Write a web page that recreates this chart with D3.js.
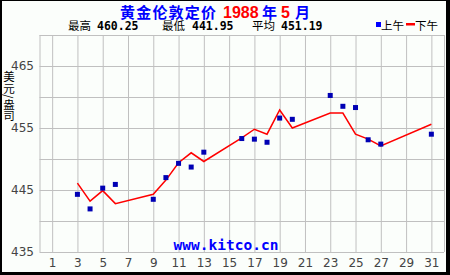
<!DOCTYPE html>
<html>
<head>
<meta charset="utf-8">
<script src="https://cdn.jsdelivr.net/npm/d3@7"></script>
<style>
  body { margin: 0; background: #fff; }
  svg { display: block; }
  .grid line { stroke: #c0c0c0; stroke-width: 1; }
  .grid path { display: none; }
  .lbl text { font-family: "DejaVu Sans", sans-serif; font-size: 12px; fill: #444; }
</style>
</head>
<body>
<script>
// trading days, May 1988
var days    = [3, 4, 5, 6, 9, 10, 11, 12, 13, 16, 17, 18, 19, 20, 23, 24, 25, 26, 27, 31];
var amFix   = [444.3, 441.95, 445.3, 445.9, 443.5, 447.0, 449.3, 448.7, 451.1, 453.3,
               453.2, 452.7, 456.6, 456.4, 460.25, 458.5, 458.3, 453.1, 452.4, 454.0];
var pmFix   = [446.1, 443.2, 444.9, 442.8, 444.3, 446.6, 449.4, 451.0, 449.6, 453.4,
               454.8, 454.0, 457.9, 455.0, 457.4, 457.4, 454.0, 453.2, 452.1, 455.6];
var xTicks  = [1, 3, 5, 7, 9, 11, 13, 15, 17, 19, 21, 23, 25, 27, 29, 31];
var yTicks  = [435, 445, 455, 465];
var yGrid   = [435, 440, 445, 450, 455, 460, 465, 470];
var stats   = [["最高", "460.25"], ["最低", "441.95"], ["平均", "451.19"]];

var W = 450, H = 275;
var svg = d3.select("body").append("svg").attr("width", W).attr("height", H);

// frame
svg.append("rect").attr("width", W).attr("height", H).attr("fill", "#000");
svg.append("rect").attr("x", 2).attr("y", 1).attr("width", W - 6).attr("height", H - 4)
    .attr("fill", "#fbfefb");

var x = d3.scaleLinear().domain([0, 32]).range([39.5, 444]);
var y = d3.scaleLinear().domain([435, 470]).range([252, 35]);

// grid
svg.append("g").attr("class", "grid")
    .attr("transform", "translate(0,35)")
    .call(d3.axisBottom(x).tickValues(xTicks.concat([0, 32])).tickSize(217).tickFormat(""));
svg.append("g").attr("class", "grid")
    .attr("transform", "translate(39.5,0)")
    .call(d3.axisRight(y).tickValues(yGrid).tickSize(404.5).tickFormat(""));

// axis labels
svg.append("g").attr("class", "lbl")
    .attr("transform", "translate(39,0)")
    .call(d3.axisLeft(y).tickValues(yTicks).tickSize(0).tickPadding(5).tickFormat(d3.format("d")))
    .call(function(g) { g.select(".domain").remove(); });
svg.append("g").attr("class", "lbl")
    .attr("transform", "translate(0,254)")
    .call(d3.axisBottom(x).tickValues(xTicks).tickSize(0).tickPadding(4).tickFormat(d3.format("d")))
    .call(function(g) { g.select(".domain").remove(); });

// y title, vertical
svg.append("text").attr("x", 9).attr("y", 71)
    .attr("style", "writing-mode: vertical-rl;")
    .attr("font-family", "'Noto Sans CJK SC', sans-serif")
    .attr("font-size", 11.5).attr("fill", "#000").text("美元/盎司");

// watermark
svg.append("text").attr("x", 226).attr("y", 250).attr("text-anchor", "middle")
    .attr("font-family", "'DejaVu Sans Mono', monospace").attr("font-weight", "bold")
    .attr("font-size", 14.5).attr("fill", "#0000ff").text("www.kitco.cn");

// afternoon line
var line = d3.line().x(function(d) { return x(d[0]); }).y(function(d) { return y(d[1]); });
svg.append("path").datum(d3.zip(days, pmFix)).attr("d", line)
    .attr("fill", "none").attr("stroke", "#ff0000").attr("stroke-width", 1.5);

// morning markers
svg.selectAll("rect.am").data(d3.zip(days, amFix)).enter().append("rect")
    .attr("class", "am")
    .attr("x", function(d) { return x(d[0]) - 2.5; })
    .attr("y", function(d) { return y(d[1]) - 2.5; })
    .attr("width", 5).attr("height", 5).attr("fill", "#0000b4");

// title
var t = svg.append("text").attr("y", 17.5)
    .attr("font-family", "'Noto Sans CJK SC', sans-serif").attr("font-weight", "bold")
    .attr("font-size", 15).attr("fill", "#0000ff");
t.append("tspan").attr("x", 120).attr("textLength", 96).text("黄金伦敦定价");
t.append("tspan").attr("x", 223).attr("fill", "#ff0000").attr("font-family", "'Liberation Sans', sans-serif")
    .attr("font-size", 16).text("1988");
t.append("tspan").attr("x", 262).text("年");
t.append("tspan").attr("x", 281).attr("fill", "#ff0000").attr("font-family", "'Liberation Sans', sans-serif")
    .attr("font-size", 16).text("5");
t.append("tspan").attr("x", 295).text("月");

// stats line
var sx = [[68, 97], [162, 192], [252, 281]];
stats.forEach(function(s, i) {
    svg.append("text").attr("x", sx[i][0]).attr("y", 30)
        .attr("font-family", "'Noto Sans CJK SC', sans-serif").attr("font-size", 11.5)
        .attr("fill", "#000").text(s[0]);
    svg.append("text").attr("x", sx[i][1]).attr("y", 30)
        .attr("font-family", "'DejaVu Sans Mono', monospace").attr("font-weight", "bold")
        .attr("font-size", 11.5).attr("fill", "#000").text(s[1]);
});

// legend
svg.append("rect").attr("x", 376).attr("y", 22).attr("width", 5).attr("height", 5).attr("fill", "#0000ff");
svg.append("text").attr("x", 381).attr("y", 30).attr("font-family", "'Noto Sans CJK SC', sans-serif")
    .attr("font-size", 11.5).attr("fill", "#000").text("上午");
svg.append("rect").attr("x", 406).attr("y", 23).attr("width", 9).attr("height", 2.5).attr("fill", "#ff0000");
svg.append("text").attr("x", 415).attr("y", 30).attr("font-family", "'Noto Sans CJK SC', sans-serif")
    .attr("font-size", 11.5).attr("fill", "#000").text("下午");
</script>
</body>
</html>
